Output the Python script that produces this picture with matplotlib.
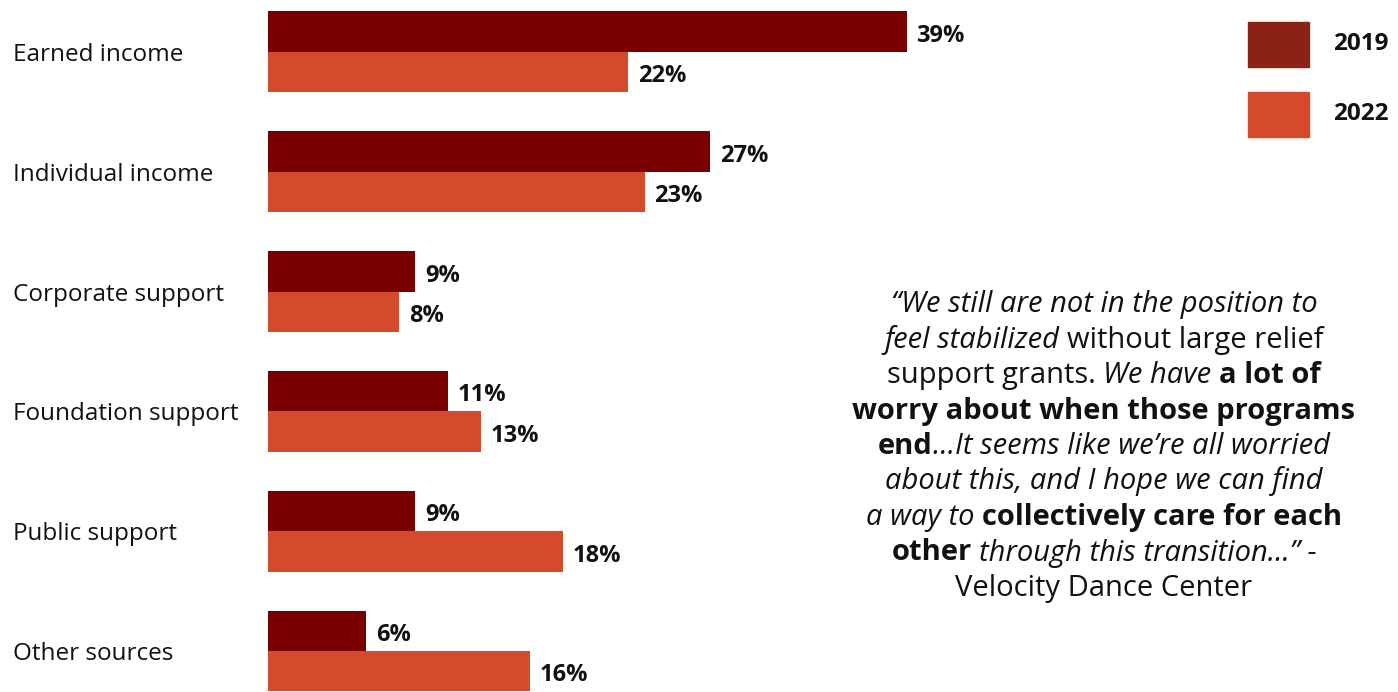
import matplotlib.pyplot as plt
from matplotlib.patches import Rectangle
import matplotlib.transforms as mtransforms

categories = ["Earned income", "Individual income", "Corporate support",
              "Foundation support", "Public support", "Other sources"]
share_2019 = [39, 27, 9, 11, 9, 6]
share_2022 = [22, 23, 8, 13, 18, 16]
years = ["2019", "2022"]

quote_lines = [
    [("\u201cWe still are not in the position to", "i")],
    [("feel stabilized", "i"), ("without large relief", "r")],
    [("support grants.", "r"), ("We have", "i"), ("a lot of", "b")],
    [("worry about when those programs", "b")],
    [("end", "b"), ("\u2026It seems like we\u2019re all worried", "i+")],
    [("about this, and I hope we can find", "i")],
    [("a way to", "i"), ("collectively care for each", "b")],
    [("other", "b"), ("through this transition\u2026\u201d -", "i")],
    [("Velocity Dance Center", "r")],
]

c2019 = "#780000"
c2022 = "#D44A2B"
c2019_legend = "#8A2316"
FONT = "Open Sans"

W, H = 1398, 692
fig = plt.figure(figsize=(W / 100, H / 100), dpi=100)
plt.rcParams["font.family"] = FONT

# axes: bars start at x=268 px, 0..40 % spans 655 px
ax = fig.add_axes([268 / W, 0, 655 / W, 1])
gap = 119.8
ypos = list(range(len(categories)))
h = 40.5 / gap
ax.barh([y - h / 2 for y in ypos], share_2019, height=h, color=c2019)
ax.barh([y + h / 2 for y in ypos], share_2022, height=h, color=c2022)
ax.set_xlim(0, 40)
ax.set_ylim(len(categories) - 1 + 41 / gap, -52 / gap)
ax.axis("off")

for y, a, b in zip(ypos, share_2019, share_2022):
    for v, yy in ((a, y - h / 2), (b, y + h / 2)):
        ax.annotate(f"{v}%", (v, yy), xytext=(7, -3), textcoords="offset points",
                    va="center", ha="left", fontsize=17, fontweight="bold",
                    color="#111111", annotation_clip=False)

blend = mtransforms.blended_transform_factory(fig.transFigure, ax.transData)
for y, cat in zip(ypos, categories):
    ax.text(13 / W, y + 3 / gap, cat, transform=blend, ha="left", va="center",
            fontsize=17.5, color="#111111")

# legend
for i, (yr, col) in enumerate(zip(years, [c2019_legend, c2022])):
    top = 22 + i * 70
    fig.patches.append(Rectangle((1248 / W, 1 - (top + 45) / H), 61 / W, 45 / H,
                                 transform=fig.transFigure, color=col))
    fig.text(1333 / W, 1 - (top + 22) / H, yr, ha="left", va="center",
             fontsize=17.5, fontweight="bold", color="#111111")

# quote, drawn segment by segment
renderer = fig.canvas.get_renderer()
qsize = 21
cx = 1104
for n, line in enumerate(quote_lines):
    base = 312 + n * 35.5
    arts = []
    for txt, st in line:
        t = fig.text(0, 0, txt, fontsize=qsize, color="#111111", va="baseline",
                     ha="left",
                     fontweight="bold" if st == "b" else "normal",
                     fontstyle="italic" if st.startswith("i") else "normal")
        arts.append((t, st))
    space = fig.text(0, 0, "a a", fontsize=qsize).get_window_extent(renderer).width \
        - fig.text(0, 0, "aa", fontsize=qsize).get_window_extent(renderer).width
    widths = [t.get_window_extent(renderer).width for t, _ in arts]
    gaps = [0] + [0 if st.endswith("+") else space for _, st in arts[1:]]
    total = sum(widths) + sum(gaps)
    x = cx - total / 2
    for (t, st), w, g in zip(arts, widths, gaps):
        x += g
        t.set_position((x / W, 1 - base / H))
        x += w

for t in list(fig.texts):
    if t.get_text() in ("a a", "aa"):
        t.remove()

fig.savefig("out.png", dpi=100)
